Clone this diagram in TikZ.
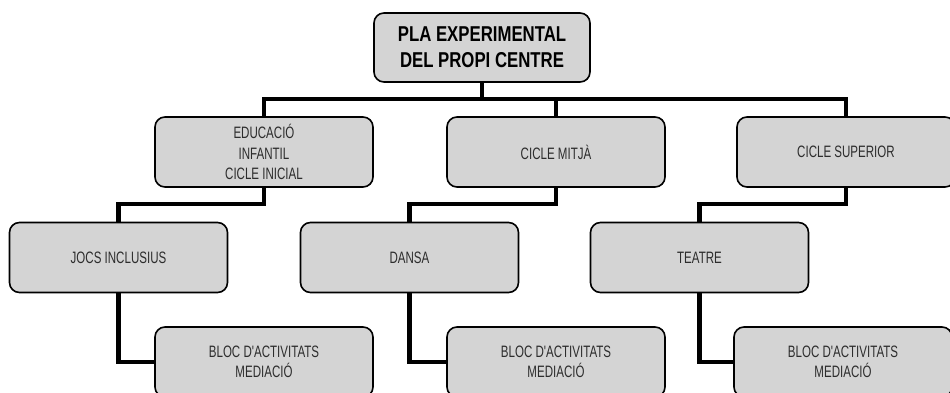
\documentclass[tikz,border=0pt]{standalone}
\usepackage{fontspec}
\setmainfont{Liberation Sans}
\newfontfamily\boxfont[FakeStretch=0.7]{Liberation Sans}
\newfontfamily\topfont[FakeStretch=0.78]{Liberation Sans}
\usetikzlibrary{positioning}

\definecolor{boxgray}{RGB}{212,212,212}
\definecolor{textgray}{RGB}{45,45,45}

\begin{document}
\begin{tikzpicture}[x=1pt, y=-1pt,
		box/.style={draw=black, line width=1.6pt, fill=boxgray, rounded corners=10pt,
			minimum width=218pt, minimum height=70pt, align=center, text=textgray,
			font=\boxfont\fontsize{16.5}{20.5}\selectfont},
		topbox/.style={box, minimum width=216pt, minimum height=69pt, text=black,
			font=\topfont\bfseries\fontsize{21.5}{26}\selectfont},
		link/.style={line width=4.5pt}]
			\useasboundingbox (0,0) rectangle (950,393);
			\clip (0,0) rectangle (950,393);

			% top of the tree
			\node (pla) at (482,47.5) [topbox] {PLA EXPERIMENTAL\\DEL PROPI CENTRE};

			% cycles
			\node (edu) at (264,152) [box] {EDUCACIÓ\\INFANTIL\\CICLE INICIAL};
			\node (mitja) at (556,152) [box] {CICLE MITJÀ};
			\node (sup) at (846,152) [box] {CICLE SUPERIOR};

			% activities
			\node (jocs) at (118.5,257.5) [box] {JOCS INCLUSIUS};
			\node (dansa) at (409.5,257.5) [box] {DANSA};
			\node (teatre) at (699.5,257.5) [box] {TEATRE};

			% blocs
			\node (bloc1) at (264,362) [box] {BLOC D'ACTIVITATS\\MEDIACIÓ};
			\node (bloc2) at (556,362) [box] {BLOC D'ACTIVITATS\\MEDIACIÓ};
			\node (bloc3) at (843,362) [box] {BLOC D'ACTIVITATS\\MEDIACIÓ};

			% main bar
			\draw [link] (edu.north) -- ++(0,-17) coordinate (bar) -| (sup.north);
			\draw [link] (pla.south) -- (pla.south |- bar);
			\draw [link] (mitja.north) -- (mitja.north |- bar);

			% cycles to activities
			\draw [link] (edu.south) -- ++(0,16) -| (jocs.north);
			\draw [link] (mitja.south) -- ++(0,16) -| (dansa.north);
			\draw [link] (sup.south) -- ++(0,16) -| (teatre.north);

			% activities to blocs
			\draw [link] (jocs.south) |- (bloc1.west);
			\draw [link] (dansa.south) |- (bloc2.west);
			\draw [link] (teatre.south) |- (bloc3.west);
		\end{tikzpicture}
\end{document}
